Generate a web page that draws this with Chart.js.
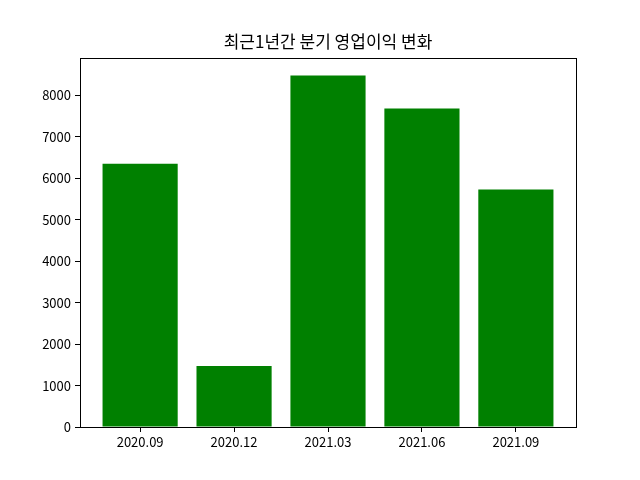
<!DOCTYPE html>
<html><head><meta charset="utf-8">
<script src="https://cdn.jsdelivr.net/npm/chart.js@4"></script>
<style>html,body{margin:0;padding:0;background:#fff}#wrap{width:640px;height:480px}</style>
</head><body><div id="wrap"><canvas id="c" width="640" height="480"></canvas></div>
<script>
const categories = ['2020.09', '2020.12', '2021.03', '2021.06', '2021.09'];
const profits = [6355, 1470, 8482, 7687, 5735];
const yTicks = [0, 1000, 2000, 3000, 4000, 5000, 6000, 7000, 8000];
const titleText = '최근1년간 분기 영업이익 변화';

const FONT = "'Noto Sans CJK KR', 'DejaVu Sans', sans-serif";
const decor = {
  id: 'decor',
  afterDraw(chart) {
    const a = chart.chartArea, ctx = chart.ctx;
    ctx.save();
    ctx.strokeStyle = '#000';
    ctx.lineWidth = 1;
    ctx.strokeRect(Math.round(a.left) + 0.5, Math.round(a.top) + 0.5, Math.round(a.right - a.left), Math.round(a.bottom - a.top));
    ctx.fillStyle = '#000';
    ctx.font = '17px ' + FONT;
    ctx.textAlign = 'center';
    ctx.textBaseline = 'middle';
    ctx.fillText(titleText, (a.left + a.right) / 2, 42);
    ctx.restore();
  }
};
const yMax = Math.max(...profits) * 1.05;
new Chart(document.getElementById('c'), {
  type: 'bar',
  data: {
    datasets: [{
      data: profits.map((v, i) => ({x: i, y: v})),
      backgroundColor: '#008000',
      borderWidth: 0,
      inflateAmount: 0,
      categoryPercentage: 1.0,
      barPercentage: 0.8
    }]
  },
  options: {
    responsive: false,
    animation: false,
    layout: {padding: {left: 0, right: 64, top: 58, bottom: 0}},
    plugins: {
      legend: {display: false},
      tooltip: {enabled: false},
      title: {display: false}
    },
    scales: {
      x: {
        type: 'linear', min: -0.64, max: 4.64, offset: false,
        afterBuildTicks: (s) => { s.ticks = categories.map((c, i) => ({value: i})); },
        afterFit: (s) => { s.height = 53; },
        ticks: {callback: (v) => categories[v], color: '#000', font: {family: FONT, size: 13}, padding: 2, maxRotation: 0, autoSkip: false},
        grid: {display: true, offset: false, drawOnChartArea: false, tickLength: 5, color: '#000', tickColor: '#000'},
        border: {display: true, color: '#000'}
      },
      y: {
        min: 0, max: yMax,
        afterBuildTicks: (s) => { s.ticks = yTicks.map(v => ({value: v})); },
        afterFit: (s) => { s.width = 80; },
        ticks: {callback: (v) => String(v), color: '#000', font: {family: FONT, size: 13}, padding: 4, includeBounds: false},
        grid: {display: true, offset: false, drawOnChartArea: false, tickLength: 5, color: '#000', tickColor: '#000'},
        border: {display: true, color: '#000'}
      }
    }
  },
  plugins: [decor]
});
</script></body></html>
